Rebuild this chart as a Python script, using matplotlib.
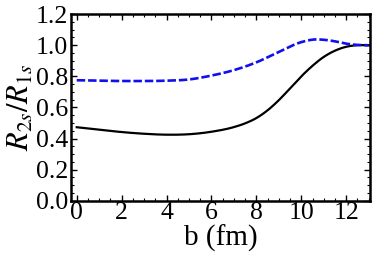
import numpy as np
import matplotlib
matplotlib.use("Agg")
import matplotlib.pyplot as plt
from matplotlib.ticker import MultipleLocator, FormatStrFormatter

plt.rcParams['font.family'] = ['Liberation Serif', 'DejaVu Serif']
plt.rcParams['mathtext.fontset'] = 'stix'

b = [0, 1, 2, 3, 4, 5, 6, 7, 7.5, 8, 8.5, 9, 9.5, 10, 10.5, 11, 11.5, 12, 12.5, 13]
ratio_black = [0.473, 0.457, 0.442, 0.431, 0.425, 0.428, 0.444, 0.474, 0.498, 0.532, 0.582, 0.647, 0.723, 0.80, 0.868, 0.925, 0.965, 0.99, 1.0, 1.0]
b2 = [0, 1, 2, 3, 4, 5, 6, 7, 8, 9, 10, 10.6, 11, 11.5, 12, 12.5, 13]
ratio_blue = [0.775, 0.772, 0.77, 0.77, 0.772, 0.78, 0.805, 0.84, 0.89, 0.957, 1.02, 1.037, 1.035, 1.025, 1.01, 1.002, 1.0]

fine = np.linspace(0, 13, 400)

def smooth(x, y, xf):
    # cubic Hermite through the read-off points
    x = np.asarray(x, float); y = np.asarray(y, float)
    m = np.gradient(y, x)
    out = np.empty_like(xf)
    for i, xv in enumerate(xf):
        k = min(np.searchsorted(x, xv, side='right') - 1, len(x) - 2)
        h = x[k + 1] - x[k]
        t = (xv - x[k]) / h
        h00 = 2*t**3 - 3*t**2 + 1
        h10 = t**3 - 2*t**2 + t
        h01 = -2*t**3 + 3*t**2
        h11 = t**3 - t**2
        out[i] = h00*y[k] + h10*h*m[k] + h01*y[k+1] + h11*h*m[k+1]
    return out

fig = plt.figure(figsize=(3.74, 2.66), dpi=100)
ax = fig.add_axes([0.189, 0.245, 0.801, 0.702])

ax.plot(fine, smooth(b, ratio_black, fine), color='black', lw=1.6)
ax.plot(fine, smooth(b2, ratio_blue, fine), color='#1010ee', lw=1.9, ls=(0, (3.2, 1.1)))

ax.set_xlim(-0.27, 13.07)
ax.set_ylim(0, 1.2)
ax.xaxis.set_major_locator(MultipleLocator(2))
ax.xaxis.set_minor_locator(MultipleLocator(0.5))
ax.yaxis.set_major_locator(MultipleLocator(0.2))
ax.yaxis.set_minor_locator(MultipleLocator(0.05))
ax.yaxis.set_major_formatter(FormatStrFormatter('%.1f'))
ax.tick_params(which='both', direction='in', top=True, right=True, labelsize=18.5)
ax.tick_params(axis='x', pad=1)
ax.tick_params(axis='y', pad=2)
ax.tick_params(which='major', length=4, width=1)
ax.tick_params(which='minor', length=2, width=0.8)
for s in ax.spines.values():
    s.set_linewidth(1.8)

ax.set_xlabel('b (fm)', fontsize=21, labelpad=0)
ax.set_ylabel('$R_{2s}/R_{1s}$', fontsize=22, labelpad=0)

fig.savefig('out.png', dpi=100)
